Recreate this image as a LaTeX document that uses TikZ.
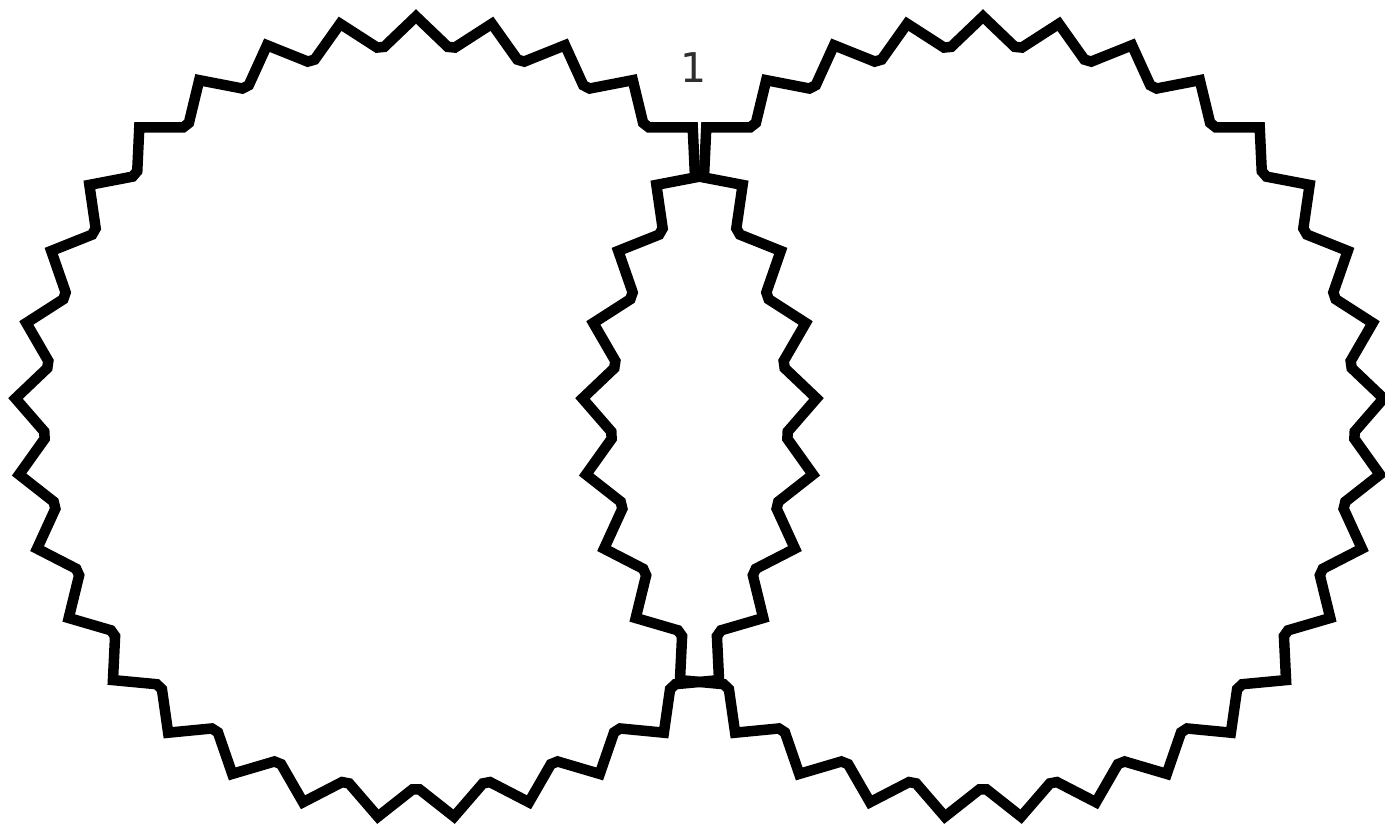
\documentclass[tikz,border=0pt]{standalone}
\usepackage{fontspec}
\newfontfamily\labelfont{DejaVu Sans}
\definecolor{labelgray}{HTML}{2E2E2E}
\begin{document}
\begin{tikzpicture}[x=1pt,y=1pt,
  zz/.style={line width=10.5pt, line join=miter, draw=black},
  lbl/.style={text=labelgray, font=\labelfont\fontsize{41}{41}\selectfont, inner sep=0pt}]
\useasboundingbox (0,0) rectangle (1385,823);
\coordinate (c1) at (416,405.5);
\coordinate (c2) at (983,405.5);
\foreach \c in {c1,c2}{
  \draw[zz,shift={(\c)}] (90:401)
    \foreach \k in {0,...,32}{
      -- ({90+\k*360/33+4.9}:372)
      -- ({90+(\k+1)*360/33-4.9}:372)
      -- ({90+(\k+1)*360/33}:401)
    } -- cycle;
}
\node[lbl] (one) at (694,755) {1};
\end{tikzpicture}
\end{document}
